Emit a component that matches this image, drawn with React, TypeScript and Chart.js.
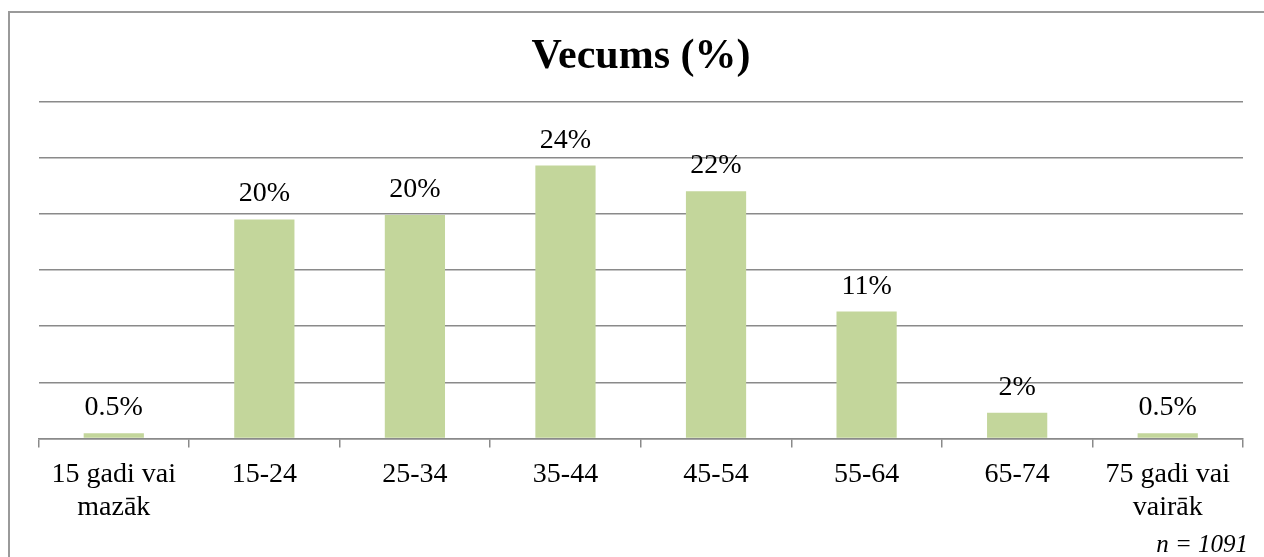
import React, { useEffect, useRef } from "react";
import { Chart, registerables } from "chart.js";

Chart.register(...registerables);

const categories: (string | string[])[] = [
  ["15 gadi vai", "mazāk"],
  "15-24",
  "25-34",
  "35-44",
  "45-54",
  "55-64",
  "65-74",
  ["75 gadi vai", "vairāk"],
];
const values = [0.46, 19.5, 19.9, 24.3, 22.0, 11.3, 2.3, 0.46];
const valueLabels = ["0.5%", "20%", "20%", "24%", "22%", "11%", "2%", "0.5%"];
const titleText = "Vecums (%)";
const noteText = "n = 1091";
const yMax = 30;
const yStep = 5;

const FONT = "'Liberation Serif', 'Times New Roman', serif";
const GRID = "#8a8a8a";

const decorPlugin = {
  id: "decor",
  afterDatasetsDraw(chart: any) {
    const ctx = chart.ctx;
    const meta = chart.getDatasetMeta(0);
    ctx.save();
    ctx.fillStyle = "#000";
    ctx.font = `28px ${FONT}`;
    ctx.textAlign = "center";
    ctx.textBaseline = "alphabetic";
    meta.data.forEach((bar: any, i: number) => {
      ctx.fillText(valueLabels[i], bar.x, bar.y - 18);
    });
    // title
    ctx.font = `bold 42px ${FONT}`;
    ctx.fillText(titleText, 641, 68);
    // note
    ctx.font = `italic 25px ${FONT}`;
    ctx.textAlign = "right";
    ctx.fillText(noteText, 1248, 552);
    ctx.restore();
  },
};

export default function App() {
  const ref = useRef<HTMLCanvasElement>(null);
  useEffect(() => {
    if (!ref.current) return;
    const chart = new Chart(ref.current, {
      type: "bar",
      data: {
        labels: categories,
        datasets: [
          {
            data: values,
            backgroundColor: "#c3d69b",
            borderWidth: 0,
            barPercentage: 0.4,
            categoryPercentage: 1,
          },
        ],
      },
      options: {
        animation: false,
        responsive: false,
        maintainAspectRatio: false,
        layout: { padding: { left: 38.5, top: 101.5, right: 21, bottom: 18.5 } },
        plugins: {
          legend: { display: false },
          title: { display: false },
          tooltip: { enabled: false },
        },
        scales: {
          x: {
            afterFit: (s: any) => {
              s.height = 100;
            },
            grid: {
              display: true,
              drawOnChartArea: false,
              drawTicks: true,
              tickLength: 9,
              color: GRID,
              lineWidth: 1.5,
              offset: true,
            },
            border: { display: true, color: GRID, width: 1.5 },
            ticks: {
              color: "#000",
              font: { family: FONT, size: 28, lineHeight: 1.18 },
              padding: 11,
              maxRotation: 0,
              autoSkip: false,
            },
          },
          y: {
            min: 0,
            max: yMax,
            afterFit: (s: any) => {
              s.width = 0;
            },
            ticks: { display: false, stepSize: yStep },
            grid: { color: GRID, lineWidth: 1.5, drawTicks: false, tickLength: 0 },
            border: { display: false },
          },
        },
      },
      plugins: [decorPlugin],
    });
    return () => chart.destroy();
  }, []);
  return (
    <>
      <div
        style={{
          position: "fixed",
          left: 8,
          top: 11,
          right: 0,
          bottom: 0,
          borderLeft: "2px solid #9a9a9a",
          borderTop: "2px solid #9a9a9a",
        }}
      />
      <canvas
        ref={ref}
        width={1264}
        height={557}
        style={{ position: "fixed", left: 0, top: 0, width: 1264, height: 557 }}
      />
    </>
  );
}
